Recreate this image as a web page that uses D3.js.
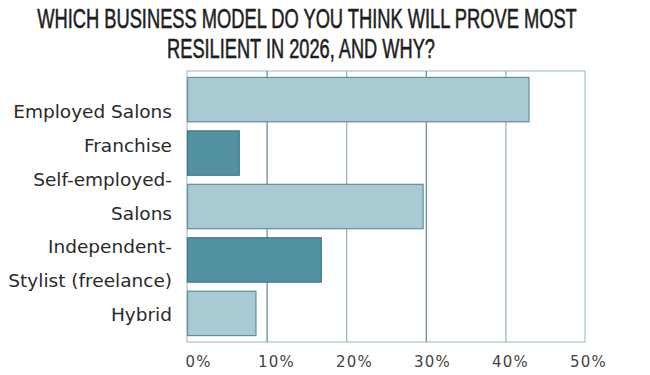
<!DOCTYPE html>
<html>
<head>
<meta charset="utf-8">
<script src="https://cdn.jsdelivr.net/npm/d3@7"></script>
<style>
  html, body { margin: 0; padding: 0; background: #ffffff; }
  svg { display: block; }
</style>
</head>
<body>
<svg id="chart" width="650" height="375"></svg>
<script>
// ---- data ----
const titleLines = ["WHICH BUSINESS MODEL DO YOU THINK WILL PROVE MOST", "RESILIENT IN 2026, AND WHY?"];
const categories = ["Employed Salons", "Franchise", "Self-employed-\nSalons", "Independent-\nStylist (freelance)", "Hybrid"];
const values = [42.9, 6.5, 29.6, 16.8, 8.6];
const barTone = ["light", "dark", "light", "dark", "light"];
const tickValues = [0, 10, 20, 30, 40, 50];
const tickLabels = ["0%", "10%", "20%", "30%", "40%", "50%"];

// ---- layout ----
const W = 650, H = 375;
const margin = { top: 71, right: 65, bottom: 33, left: 187 };
const innerW = W - margin.left - margin.right;
const innerH = H - margin.top - margin.bottom;

const svg = d3.select("#chart");

// title (fit each line to its measured width in the reference)
const titleG = svg.append("g");
const titleBoxes = [{ cx: 307, w: 540, y: 27.5 }, { cx: 301, w: 268, y: 58 }];
titleLines.forEach((t, i) => {
  const b = titleBoxes[i];
  const txt = titleG.append("text")
    .attr("x", 0)
    .attr("y", 0)
    .attr("text-anchor", "middle")
    .style("font-family", "'Liberation Sans Narrow', 'Liberation Sans', Arial, sans-serif")
    .style("font-stretch", "condensed")
    .style("font-weight", "normal")
    .style("font-size", "27px")
    .style("fill", "#1e1e1e")
    .style("stroke", "#1e1e1e")
    .style("stroke-width", "0.55px")
    .text(t);
  const natural = txt.node().getComputedTextLength();
  const sx = b.w / natural;
  txt.attr("transform", `translate(${b.cx},${b.y}) scale(${sx},1)`);
});

const g = svg.append("g").attr("transform", `translate(${margin.left},${margin.top})`);

const x = d3.scaleLinear().domain([0, 50]).range([0, innerW]);
const y = d3.scaleBand().domain(categories).range([0, innerH]).paddingInner(0.17).paddingOuter(0.12);

// frame
g.append("rect")
  .attr("x", 0).attr("y", 0)
  .attr("width", innerW).attr("height", innerH)
  .attr("fill", "none")
  .attr("stroke", "#a3c6cd")
  .attr("stroke-width", 1.2);

// gridlines
g.selectAll("line.grid")
  .data(tickValues.slice(1, -1))
  .join("line")
  .attr("class", "grid")
  .attr("x1", d => x(d) + 0.5).attr("x2", d => x(d) + 0.5)
  .attr("y1", 0).attr("y2", innerH)
  .attr("stroke", (d, i) => i % 2 === 0 ? "#5e8790" : "#8fb3ba")
  .attr("stroke-width", 1.2);

// bars
g.selectAll("rect.bar")
  .data(categories)
  .join("rect")
  .attr("class", "bar")
  .attr("x", x(0) + 0.5)
  .attr("y", d => y(d))
  .attr("width", (d, i) => x(values[i]) - x(0))
  .attr("height", y.bandwidth())
  .attr("fill", (d, i) => barTone[i] === "light" ? "#a9cad2" : "#5191a1")
  .attr("stroke", (d, i) => barTone[i] === "light" ? "#618e98" : "#3f7683")
  .attr("stroke-width", 1.2);

// x-axis tick labels
const xAxis = d3.axisBottom(x).tickValues(tickValues).tickFormat((d, i) => tickLabels[i]).tickSize(0).tickPadding(0);
const ax = g.append("g").attr("transform", `translate(0,${innerH})`).call(xAxis);
ax.select(".domain").remove();
ax.selectAll("text")
  .attr("y", 25)
  .attr("dx", (d, i) => 11 - i * 1.6)
  .attr("dy", 0)
  .style("font-family", "'DejaVu Sans', sans-serif")
  .style("font-size", "15px")
  .style("letter-spacing", "1.2px")
  .style("fill", "#444");

// category labels: stacked lines evenly spaced
const lines = [];
categories.forEach(c => c.split("\n").forEach(l => lines.push(l)));
const step = innerH / 8;
g.selectAll("text.cat")
  .data(lines)
  .join("text")
  .attr("class", "cat")
  .attr("x", -15)
  .attr("y", (d, i) => step * (i + 1) + 13)
  .attr("text-anchor", "end")
  .style("font-family", "'DejaVu Sans', sans-serif")
  .style("font-size", "18.5px")
  .style("fill", "#2a2a2a")
  .text(d => d);
</script>
</body>
</html>
